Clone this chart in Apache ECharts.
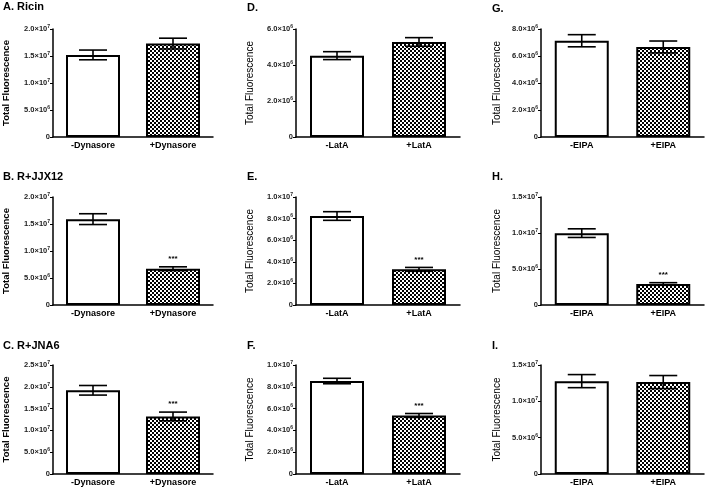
<!DOCTYPE html>
<html><head><meta charset="utf-8">
<script src="https://cdn.jsdelivr.net/npm/echarts@6/dist/echarts.min.js"></script>
<style>html,body{margin:0;padding:0;background:#fff}#c{width:707px;height:488px}</style>
</head><body><div id="c"></div>
<script>
// ---- data ----
const titles = ['A. Ricin','B. R+JJX12','C. R+JNA6','D.','E.','F.','G.','H.','I.'];
const catsDyn = ['-Dynasore','+Dynasore'];
const catsLat = ['-LatA','+LatA'];
const catsEipa = ['-EIPA','+EIPA'];
const meanA = [1.52e7, 1.73e7], errA = [0.09e7, 0.10e7], sigA = ['', ''];
const meanB = [1.59e7, 0.672e7], errB = [0.10e7, 0.035e7], sigB = ['', '***'];
const meanC = [1.92e7, 1.32e7], errC = [0.11e7, 0.10e7], sigC = ['', '***'];
const meanD = [4.52e6, 5.28e6], errD = [0.22e6, 0.24e6], sigD = ['', ''];
const meanE = [8.24e6, 3.30e6], errE = [0.40e6, 0.18e6], sigE = ['', '***'];
const meanF = [8.53e6, 5.37e6], errF = [0.25e6, 0.18e6], sigF = ['', '***'];
const meanG = [7.13e6, 6.67e6], errG = [0.45e6, 0.44e6], sigG = ['', ''];
const meanH = [9.98e6, 2.92e6], errH = [0.60e6, 0.18e6], sigH = ['', '***'];
const meanI = [1.278e7, 1.265e7], errI = [0.09e7, 0.09e7], sigI = ['', ''];
const axMax = [2e7, 2e7, 2.5e7, 6e6, 1e7, 1e7, 8e6, 1.5e7, 1.5e7];
const axInt = [5e6, 5e6, 5e6, 2e6, 2e6, 2e6, 2e6, 5e6, 5e6];
const yName = 'Total Fluorescence';

const panels = [
  {cats: catsDyn, mean: meanA, err: errA, sig: sigA},
  {cats: catsDyn, mean: meanB, err: errB, sig: sigB},
  {cats: catsDyn, mean: meanC, err: errC, sig: sigC},
  {cats: catsLat, mean: meanD, err: errD, sig: sigD},
  {cats: catsLat, mean: meanE, err: errE, sig: sigE},
  {cats: catsLat, mean: meanF, err: errF, sig: sigF},
  {cats: catsEipa, mean: meanG, err: errG, sig: sigG},
  {cats: catsEipa, mean: meanH, err: errH, sig: sigH},
  {cats: catsEipa, mean: meanI, err: errI, sig: sigI}
];

// ---- layout ----
const colLeft = [51, 296, 541], colWidth = [162, 164, 163];
const rowTop = [29, 197, 365], rowHeight = [108, 108, 109];
const nameGaps = [42, 41, 39];
const titleX = [3, 247, 492], titleY = [[1,171,340],[2,171,340],[3,171,340]];
const FONT = '"Liberation Sans", Arial, sans-serif';

// checkerboard pattern
const pc = document.createElement('canvas');
pc.width = 4; pc.height = 4;
const pctx = pc.getContext('2d');
pctx.fillStyle = '#ffffff'; pctx.fillRect(0,0,4,4);
pctx.fillStyle = '#000000'; pctx.fillRect(0,0,2,2); pctx.fillRect(2,2,2,2);

function fmt(v){
  if (v === 0) return '{m|0}';
  const e = Math.floor(Math.log10(v) + 1e-9);
  const m = (v / Math.pow(10, e)).toFixed(1);
  return '{m|' + m + '×10}{e|' + e + '}';
}

const grid = [], xAxis = [], yAxis = [], series = [], graphic = [];
panels.forEach((p, i) => {
  const col = Math.floor(i / 3), row = i % 3;
  grid.push({left: colLeft[col], top: rowTop[row], width: colWidth[col], height: rowHeight[row], containLabel: false});
  xAxis.push({
    type: 'category', gridIndex: i, data: p.cats,
    axisLine: {lineStyle: {color: '#000', width: 1.5}},
    axisTick: {alignWithLabel: true, length: 3, lineStyle: {color: '#000', width: 1}},
    axisLabel: {color: '#000', fontFamily: FONT, fontSize: 9, fontWeight: 'bold', margin: 4}
  });
  yAxis.push({
    type: 'value', gridIndex: i, min: 0, max: axMax[i], interval: axInt[i],
    name: yName, nameLocation: 'middle', nameGap: nameGaps[col], nameRotate: 90,
    nameTextStyle: {color: '#000', fontFamily: FONT, fontSize: col === 0 ? 9.5 : 10, fontWeight: col === 0 ? 'bold' : 'normal'},
    axisLine: {show: true, lineStyle: {color: '#000', width: 1.5}},
    axisTick: {show: true, length: 3, lineStyle: {color: '#000', width: 1}},
    splitLine: {show: false},
    axisLabel: {
      color: '#000', margin: 3, formatter: fmt,
      rich: {
        m: {fontFamily: FONT, fontSize: 7.5, fontWeight: 'bold', color: '#222'},
        e: {fontFamily: FONT, fontSize: 5, fontWeight: 'bold', color: '#222', verticalAlign: 'top', padding: [0,0,5,0]}
      }
    }
  });
  series.push({
    type: 'bar', xAxisIndex: i, yAxisIndex: i, barWidth: 54, silent: true,
    data: p.mean.map((v, k) => ({
      value: v,
      itemStyle: {
        color: k === 0 ? '#ffffff' : {image: pc, repeat: 'repeat'},
        borderColor: '#000', borderWidth: 2
      }
    })),
    z: 2
  });
  series.push({
    type: 'custom', xAxisIndex: i, yAxisIndex: i, silent: true, z: 5,
    data: p.mean.map((v, k) => [k, v, p.err[k], p.sig[k]]),
    renderItem: function(params, api){
      const k = api.value(0), m = api.value(1), e = api.value(2);
      const sig = p.sig[k];
      const top = api.coord([k, m + e]);
      const bot = api.coord([k, m - e]);
      const hw = 14;
      const st = {stroke: '#000', lineWidth: 1.6};
      const children = [
        {type: 'line', shape: {x1: top[0], y1: top[1], x2: bot[0], y2: bot[1]}, style: st},
        {type: 'line', shape: {x1: top[0]-hw, y1: top[1], x2: top[0]+hw, y2: top[1]}, style: st},
        {type: 'line', shape: {x1: bot[0]-hw, y1: bot[1], x2: bot[0]+hw, y2: bot[1]}, style: st}
      ];
      if (sig) {
        children.push({type: 'text', style: {x: top[0], y: top[1] - 4, text: sig, fill: '#000',
          font: 'bold 8px ' + FONT, textAlign: 'center', textVerticalAlign: 'bottom'}});
      }
      return {type: 'group', children: children};
    }
  });
  graphic.push({
    type: 'text', left: titleX[col], top: titleY[col][row],
    style: {text: titles[i], fill: '#000', font: 'bold 11px ' + FONT}
  });
});

const chart = echarts.init(document.getElementById('c'), null, {renderer: 'canvas'});
chart.setOption({animation: false, backgroundColor: '#fff', grid, xAxis, yAxis, series, graphic});
</script>
</body></html>
